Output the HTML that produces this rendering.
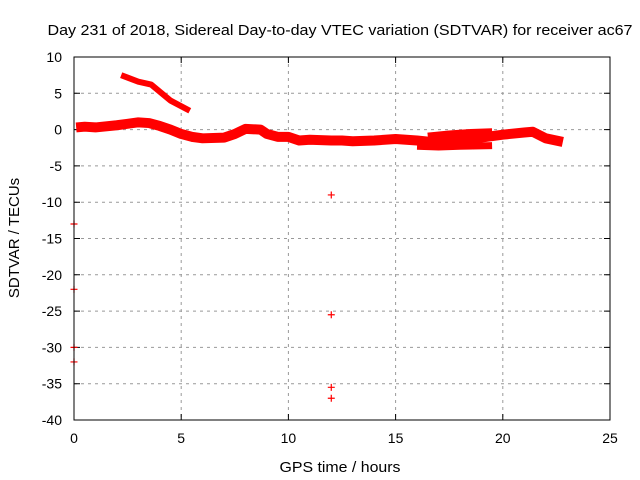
<!DOCTYPE html>
<html><head><meta charset="utf-8"><style>
body{margin:0;background:#fff}
svg{display:block;font-family:"Liberation Sans",sans-serif}
</style></head><body>
<svg id="c" width="640" height="480">
<text x="340" y="35" font-size="15" textLength="585" lengthAdjust="spacingAndGlyphs" text-anchor="middle">Day 231 of 2018, Sidereal Day-to-day VTEC variation (SDTVAR) for receiver ac67</text>
<text x="340" y="472" font-size="15" textLength="121" lengthAdjust="spacingAndGlyphs" text-anchor="middle">GPS time / hours</text>
<text transform="translate(19,238) rotate(-90)" font-size="15" text-anchor="middle">SDTVAR / TECUs</text>
<g id="grid"></g><g id="marks"></g>
<rect x="74" y="57" width="536" height="363" fill="none" stroke="#000"/>
</svg>
<script>
const xTicks=[0,5,10,15,20,25];
const yTicks=[10,5,0,-5,-10,-15,-20,-25,-30,-35,-40];
const bandHours=[0.1,0.5,1,2,3,3.5,4,4.5,5,5.5,6,7,7.5,8,8.7,9,9.5,10,10.5,11,12,12.5,13,14,15,16,17,18,19,20,21,21.4,22,22.8];
const bandValues=[0.3,0.4,0.3,0.6,1.0,0.9,0.5,0,-0.6,-1,-1.2,-1.1,-0.6,0.1,0,-0.6,-1,-1,-1.5,-1.4,-1.5,-1.5,-1.6,-1.5,-1.3,-1.5,-1.8,-1.6,-1.1,-0.7,-0.4,-0.3,-1.2,-1.7];
const lowHours=[16,17,18,19.5];
const lowValues=[-2.3,-2.4,-2.3,-2.2];
const upHours=[16.5,17.5,18.5,19.5];
const upValues=[-0.9,-0.6,-0.4,-0.3];
const segHours=[2.2,3,3.6,4.5,5.4];
const segValues=[7.5,6.6,6.2,4.0,2.6];
const outHours=[12,12,12,12,0,0,0,0];
const outValues=[-9,-25.5,-35.5,-37,-13,-22,-30,-32];
const X=h=>74+h*536/25, Y=v=>57+(10-v)*363/50;
const NS='http://www.w3.org/2000/svg';
const g=document.getElementById('grid'), m=document.getElementById('marks');
function el(p,t,a){const e=document.createElementNS(NS,t);for(const k in a)e.setAttribute(k,a[k]);p.appendChild(e);return e;}
xTicks.forEach(t=>{const x=X(t);
 if(t>0&&t<25){const l=el(g,'line',{x1:x,x2:x,y1:57,y2:420,stroke:'#999','stroke-dasharray':'3,4'});
 }
 const tk=el(g,'path',{d:`M${x},420v-6M${x},57v6`,stroke:'#000'});
 
 const tx=el(g,'text',{x:x,y:443,'font-size':14,'text-anchor':'middle'});tx.textContent=t;
 });
yTicks.forEach(t=>{const y=Y(t);
 if(t<10&&t>-40){const l=el(g,'line',{x1:74,x2:610,y1:y,y2:y,stroke:'#999','stroke-dasharray':'3,4'});
 }
 const tk=el(g,'path',{d:`M74,${y}h6M610,${y}h-6`,stroke:'#000'});
 
 const tx=el(g,'text',{x:62,y:y+5,'font-size':14,'text-anchor':'end'});tx.textContent=t;
 });
function band(hs,vs,w,name){const p=el(m,'polyline',{points:hs.map((h,i)=>X(h)+','+Y(vs[i])).join(' '),fill:'none',stroke:'#f00','stroke-width':w,'stroke-linejoin':'round','stroke-linecap':'butt'});
 }
band(bandHours,bandValues,10,'sdtvar-main-band');
band(lowHours,lowValues,7,'sdtvar-lower-band');
band(upHours,upValues,7,'sdtvar-upper-band');
band(segHours,segValues,6,'sdtvar-offset-segment');
outHours.forEach((h,i)=>{const x=X(h),y=Y(outValues[i]);
 const p=el(m,'path',{d:`M${x-3.5},${y}h7M${x},${y-3.5}v7`,stroke:'#f00','stroke-width':1.2});
 });
</script>
</body></html>
